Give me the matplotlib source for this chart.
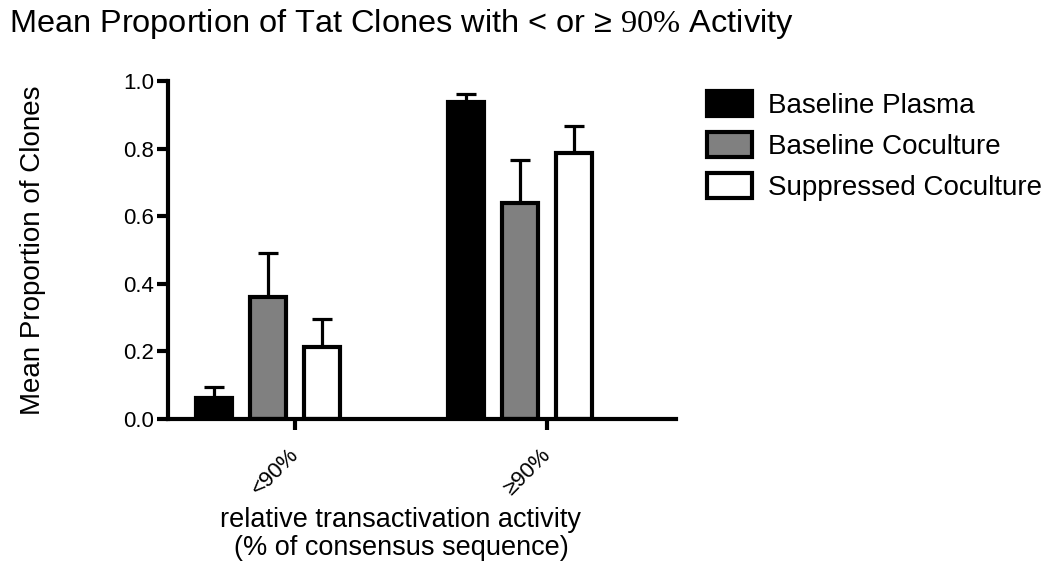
import matplotlib
matplotlib.use('Agg')
import matplotlib.pyplot as plt
import matplotlib.transforms as mtransforms
import numpy as np
from matplotlib.patches import Patch

plt.rcParams['font.family'] = ['Liberation Sans', 'DejaVu Sans']
plt.rcParams['mathtext.fontset'] = 'custom'
plt.rcParams['mathtext.rm'] = 'Liberation Serif'
plt.rcParams['mathtext.it'] = 'Liberation Serif:italic'

categories = ['<90%', '≥90%']
series_names = ['Baseline Plasma', 'Baseline Coculture', 'Suppressed Coculture']
plasma_mean = [0.062, 0.938]
plasma_err = [0.033, 0.024]
coculture_mean = [0.361, 0.639]
coculture_err = [0.130, 0.127]
suppressed_mean = [0.213, 0.787]
suppressed_err = [0.083, 0.080]
yticks = [0.0, 0.2, 0.4, 0.6, 0.8, 1.0]

means = [plasma_mean, coculture_mean, suppressed_mean]
errs = [plasma_err, coculture_err, suppressed_err]
colors = ['black', '#808080', 'white']

fig = plt.figure(figsize=(10.5, 5.84), dpi=100)
ax = fig.add_axes([0.16, 0.2825, 0.4838, 0.5787])

x = np.arange(len(categories))
offsets = [-0.214, 0.0, 0.214]
width = 0.145
lw = 3.0
for m, e, c, off, name in zip(means, errs, colors, offsets, series_names):
    ax.bar(x + off, m, width=width, color=c, edgecolor='black', linewidth=lw,
           zorder=2, label=name)
    ax.errorbar(x + off, m, yerr=[np.zeros(len(e)), e], fmt='none', ecolor='black',
                elinewidth=2.3, capsize=7.5, capthick=2.3, zorder=1)

ax.set_xlim(-0.397, 1.619)
ax.set_ylim(0, 1.0)
ax.set_yticks(yticks)
ax.set_yticklabels([f'{v:.1f}' for v in yticks])
ax.set_xticks(x + 0.108)
ax.set_xticklabels(categories, rotation=45, ha='right', rotation_mode='anchor')

for s in ['top', 'right']:
    ax.spines[s].set_visible(False)
for s in ['left', 'bottom']:
    ax.spines[s].set_linewidth(3)
ax.tick_params(axis='both', width=3, length=8, labelsize=16, pad=2)
ax.tick_params(axis='x', pad=8)
shift = mtransforms.ScaledTranslation(-7 / 100, -3 / 100, fig.dpi_scale_trans)
for lab in ax.get_xticklabels():
    lab.set_transform(lab.get_transform() + shift)

ax.set_ylabel('Mean Proportion of Clones', fontsize=20)
ax.yaxis.set_label_coords(-(168 - 46) / 508, 0.5)
ax.set_xlabel('relative transactivation activity\n(% of consensus sequence)',
              fontsize=19.5, linespacing=1.12)
ax.xaxis.set_label_coords((401 - 168) / 508, -(507 - 419) / 338)

fig.text(0.009, 0.959, r'Mean Proportion of Tat Clones with < or ≥ $\mathrm{90\%}$ Activity',
         fontsize=23.4, ha='left', va='center')

handles = [Patch(facecolor=c, edgecolor='black', linewidth=3) for c in colors]
leg = ax.legend(handles, series_names, loc='upper left', bbox_to_anchor=(0.673, 0.8442),
                bbox_transform=fig.transFigure, frameon=False, fontsize=20,
                handlelength=1.62, handleheight=1.0, handletextpad=0.58,
                labelspacing=0.47, borderaxespad=0, borderpad=0)

fig.savefig('out.png', dpi=100)
